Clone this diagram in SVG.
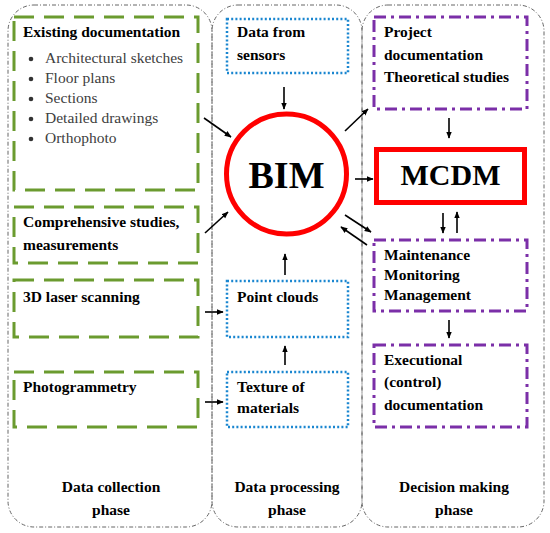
<svg xmlns="http://www.w3.org/2000/svg" width="550" height="533" viewBox="0 0 550 533">
<defs>
<marker id="ah" viewBox="0 0 10 10" refX="9" refY="5" markerWidth="7" markerHeight="7" orient="auto" markerUnits="userSpaceOnUse">
<path d="M0,1 L10,5 L0,9 Z" fill="#000"/>
</marker>
<style>
.phase{fill:none;stroke:#666;stroke-width:1;stroke-dasharray:4 2 1 2}
.g{fill:none;stroke:#6b9b2f;stroke-width:3;stroke-dasharray:20 10}
.b{fill:none;stroke:#1a86d0;stroke-width:2.5;stroke-dasharray:2 2.2}
.p{fill:none;stroke:#7b2fa8;stroke-width:3;stroke-dasharray:12 5 3 5}
.red{fill:none;stroke:#ff0000;stroke-width:5}
.tb{font-family:"Liberation Serif","DejaVu Serif",serif;font-size:15.5px;font-weight:bold;fill:#000}
.tg{font-family:"Liberation Serif","DejaVu Serif",serif;font-size:15.5px;font-weight:normal;fill:#404040}
.c{text-anchor:middle}
.conn line{stroke:#000;stroke-width:1.6;marker-end:url(#ah)}
</style>
</defs>
<rect width="550" height="533" fill="#fff"/>

<g id="phase-collection">
<rect class="phase" x="8" y="5" width="204" height="522" rx="26"/>
<text class="tb c" x="111" y="492">Data collection</text>
<text class="tb c" x="111" y="515">phase</text>
</g>
<g id="phase-processing">
<rect class="phase" x="212" y="5" width="150" height="522" rx="26"/>
<text class="tb c" x="287" y="492">Data processing</text>
<text class="tb c" x="287" y="515">phase</text>
</g>
<g id="phase-decision">
<rect class="phase" x="362" y="5" width="182" height="522" rx="26"/>
<text class="tb c" x="454" y="492">Decision making</text>
<text class="tb c" x="454" y="515">phase</text>
</g>

<g id="existing-doc">
<rect class="g" x="14" y="17" width="184" height="173"/>
<text class="tb" x="23" y="37">Existing documentation</text>
<circle cx="31" cy="59" r="2.3" fill="#333"/><text class="tg" x="45" y="63">Architectural sketches</text>
<circle cx="31" cy="79" r="2.3" fill="#333"/><text class="tg" x="45" y="83">Floor plans</text>
<circle cx="31" cy="99" r="2.3" fill="#333"/><text class="tg" x="45" y="103">Sections</text>
<circle cx="31" cy="119" r="2.3" fill="#333"/><text class="tg" x="45" y="123">Detailed drawings</text>
<circle cx="31" cy="139" r="2.3" fill="#333"/><text class="tg" x="45" y="143">Orthophoto</text>
</g>
<g id="comprehensive">
<rect class="g" x="14" y="207" width="184" height="56"/>
<text class="tb" x="23" y="227">Comprehensive studies,</text>
<text class="tb" x="23" y="250">measurements</text>
</g>
<g id="laser">
<rect class="g" x="14" y="280" width="184" height="57"/>
<text class="tb" x="23" y="302">3D laser scanning</text>
</g>
<g id="photogrammetry">
<rect class="g" x="14" y="372" width="184" height="55"/>
<text class="tb" x="23" y="392">Photogrammetry</text>
</g>

<g id="sensors">
<rect class="b" x="227" y="19" width="121" height="54"/>
<text class="tb" x="237" y="37">Data from</text>
<text class="tb" x="237" y="60">sensors</text>
</g>
<g id="bim">
<circle class="red" cx="286.5" cy="174" r="60"/>
<text class="c" x="286.5" y="188" style="font-family:'Liberation Serif',serif;font-size:38px;font-weight:bold">BIM</text>
</g>
<g id="point-clouds">
<rect class="b" x="227" y="281" width="121" height="56"/>
<text class="tb" x="237" y="302">Point clouds</text>
</g>
<g id="texture">
<rect class="b" x="227" y="372" width="121" height="55"/>
<text class="tb" x="237" y="392">Texture of</text>
<text class="tb" x="237" y="413">materials</text>
</g>

<g id="project-doc">
<rect class="p" x="374" y="17" width="153" height="92"/>
<text class="tb" x="384" y="37">Project</text>
<text class="tb" x="384" y="60">documentation</text>
<text class="tb" x="384" y="82">Theoretical studies</text>
</g>
<g id="mcdm">
<rect class="red" x="376.5" y="149.5" width="148" height="53"/>
<text class="c" x="450.5" y="185" style="font-family:'Liberation Serif',serif;font-size:30px;font-weight:bold">MCDM</text>
</g>
<g id="maintenance">
<rect class="p" x="374" y="240" width="153" height="71"/>
<text class="tb" x="384" y="260">Maintenance</text>
<text class="tb" x="384" y="280">Monitoring</text>
<text class="tb" x="384" y="300">Management</text>
</g>
<g id="executional">
<rect class="p" x="374" y="345" width="153" height="82"/>
<text class="tb" x="384" y="365">Executional</text>
<text class="tb" x="384" y="387">(control)</text>
<text class="tb" x="384" y="410">documentation</text>
</g>

<g id="connectors" class="conn">
<line x1="204" y1="118" x2="231" y2="137"/>
<line x1="205" y1="233" x2="228" y2="212"/>
<line x1="284" y1="87" x2="284" y2="109"/>
<line x1="345" y1="131" x2="368" y2="109"/>
<line x1="355" y1="179" x2="373" y2="179"/>
<line x1="345" y1="215" x2="371" y2="232"/>
<line x1="367" y1="245" x2="341" y2="227"/>
<line x1="285" y1="275" x2="285" y2="254"/>
<line x1="285" y1="365" x2="285" y2="346"/>
<line x1="205" y1="312" x2="223" y2="312"/>
<line x1="205" y1="402" x2="223" y2="402"/>
<line x1="449" y1="118" x2="449" y2="138"/>
<line x1="443" y1="213" x2="443" y2="233"/>
<line x1="457" y1="233" x2="457" y2="212"/>
<line x1="449" y1="320" x2="449" y2="338"/>
</g>
</svg>
